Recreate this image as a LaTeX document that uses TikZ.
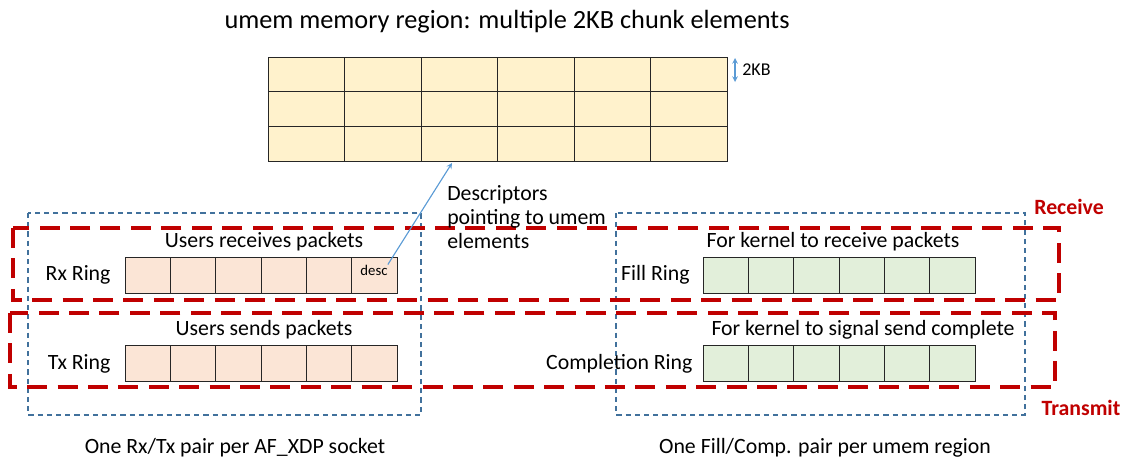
\documentclass[tikz,border=0pt]{standalone}
\usepackage{fontspec}
\setmainfont{Carlito}
\usetikzlibrary{arrows,positioning}

\definecolor{umemfill}{RGB}{255,242,204}
\definecolor{userfill}{RGB}{251,229,214}
\definecolor{kernfill}{RGB}{226,239,218}
\definecolor{groupblue}{RGB}{65,113,156}
\definecolor{ptrblue}{RGB}{91,155,213}
\definecolor{dirred}{RGB}{192,0,0}

\begin{document}
\begin{tikzpicture}
[x=0.025cm,y=-0.025cm,inner sep=0pt,
umemcell/.style={rectangle,draw=black!85,fill=umemfill,minimum width=1.9125cm,minimum height=0.867cm},
usercell/.style={rectangle,draw=black!85,fill=userfill,minimum width=1.133cm,minimum height=0.9cm},
kerncell/.style={rectangle,draw=black!85,fill=kernfill,minimum width=1.133cm,minimum height=0.9cm},
txt/.style={font=\fontsize{15.5}{17}\selectfont},
dirbox/.style={draw=dirred,line width=2.8pt,dash pattern=on 0.5cm off 0.26cm},
groupbox/.style={draw=groupblue,line width=1pt,dash pattern=on 0.13cm off 0.1cm},
dirlabel/.style={font=\fontsize{15.5}{17}\selectfont\bfseries,text=dirred}]
\useasboundingbox (0,0) rectangle (1123,468);

% groups
\draw[groupbox] (28,213) rectangle (421,415);
\draw[groupbox] (616,213) rectangle (1025,415);

% receive / transmit
\draw[dirbox] (13,228) rectangle (1059,300);
\draw[dirbox] (10,313) rectangle (1055,387);
\node[dirlabel] (receive) at (1069,207) {Receive};
\node[dirlabel] (transmit) at (1081,408) {Transmit};

% umem
\node[font=\fontsize{18.7}{22}\selectfont] (title) at (507,22) {umem memory region: multiple 2KB chunk elements};
\foreach \i in {0,...,5}
  \foreach \j in {0,1,2}
    \node[umemcell] (u\i\j) at (306.25+76.5*\i,74.3+34.67*\j) {};
\coordinate (kbtop) at (735,58);
\coordinate (kbbot) at (735,82);
\draw[ptrblue,thick,<->,>=stealth] (kbtop) -- (kbbot);
\node[font=\fontsize{12.8}{14}\selectfont,anchor=west] (kb) at (742,70) {2KB};

% rings
\foreach \i in {0,...,5} {
  \node[usercell] (rx\i) at (147.7+45.33*\i,275) {};
  \node[usercell] (tx\i) at (147.7+45.33*\i,363.5) {};
  \node[kerncell] (fill\i) at (725.7+45.33*\i,275) {};
  \node[kerncell] (comp\i) at (725.7+45.33*\i,363.5) {};
}
\node[font=\fontsize{10.5}{12}\selectfont] (desc) at (374,270) {desc};

\node[txt,left=0.35cm of rx0] {Rx Ring};
\node[txt,left=0.35cm of tx0] {Tx Ring};
\node[txt,left=0.32cm of fill0] {Fill Ring};
\node[txt,left=0.25cm of comp0] {Completion Ring};

\node[txt] (rxhead) at (264,242) {Users receives packets};
\node[txt] (txhead) at (264,330) {Users sends packets};
\node[txt] (fillhead) at (833,242) {For kernel to receive packets};
\node[txt] (comphead) at (863,330) {For kernel to signal send complete};

% descriptor pointer
\coordinate (hit) at (452,163);
\draw[ptrblue,thick,->,>=stealth] (desc.north east) -- (hit);
\node[txt,anchor=north west,align=left] (ptr) at (447,185) {Descriptors\\pointing to umem\\elements};

% footers
\node[txt] (userfoot) at (235,448) {One Rx/Tx pair per AF\_XDP socket};
\node[txt] (kernfoot) at (825,448) {One Fill/Comp. pair per umem region};
\end{tikzpicture}
\end{document}
